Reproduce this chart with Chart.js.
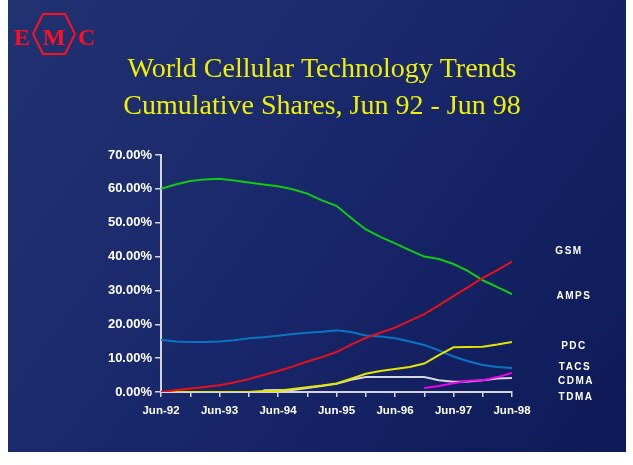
<!DOCTYPE html>
<html>
<head>
<meta charset="utf-8">
<script src="https://cdn.jsdelivr.net/npm/chart.js@4.4.1/dist/chart.umd.min.js"></script>
<style>
  html, body { margin: 0; padding: 0; background: #ffffff; }
  #wrap { width: 633px; height: 465px; }
</style>
</head>
<body>
<div id="wrap"><canvas id="chart" width="633" height="465"></canvas></div>
<script>
// Quarterly observations, Jun 92 .. Jun 98 (25 quarters)
const quarters = ['Jun-92','Sep-92','Dec-92','Mar-93','Jun-93','Sep-93','Dec-93','Mar-94','Jun-94',
  'Sep-94','Dec-94','Mar-95','Jun-95','Sep-95','Dec-95','Mar-96','Jun-96','Sep-96','Dec-96',
  'Mar-97','Jun-97','Sep-97','Dec-97','Mar-98','Jun-98'];
const xTickLabels = ['Jun-92','Jun-93','Jun-94','Jun-95','Jun-96','Jun-97','Jun-98'];
const yTickValues = [0, 10, 20, 30, 40, 50, 60, 70];

const seriesNames = ['GSM', 'AMPS', 'PDC', 'TACS', 'CDMA', 'TDMA'];

// cumulative share of subscribers, percent
const gsm  = [0.0, 0.5, 1.0, 1.5, 2.0, 2.8, 3.8, 5.0, 6.2, 7.5, 9.0, 10.3, 11.8, 14.0, 16.0, 17.5, 19.0, 21.0, 23.0, 25.6, 28.3, 31.0, 33.7, 36.0, 38.5];
const amps = [60.0, 61.3, 62.3, 62.8, 63.0, 62.5, 61.9, 61.3, 60.8, 59.9, 58.6, 56.6, 55.0, 51.4, 48.0, 45.8, 43.9, 41.9, 40.0, 39.3, 37.8, 35.7, 33.0, 31.0, 28.9];
const pdc  = [0.0, 0.0, 0.0, 0.0, 0.0, 0.0, 0.0, 0.3, 0.4, 0.9, 1.4, 1.9, 2.5, 3.9, 5.4, 6.2, 6.8, 7.4, 8.4, 10.9, 13.2, 13.3, 13.4, 14.0, 14.8];
const tacs = [15.4, 14.9, 14.8, 14.8, 14.9, 15.3, 15.9, 16.2, 16.6, 17.1, 17.5, 17.8, 18.2, 17.7, 16.7, 16.4, 15.9, 14.9, 13.9, 12.3, 10.5, 9.1, 8.0, 7.4, 7.1];
const cdma = [null, null, null, null, null, null, null, null, null, null, null, null, null, null, null, null, null, null, 1.2, 1.8, 2.6, 3.3, 3.5, 4.4, 5.6];
const tdma = [null, null, null, null, null, null, null, 0.5, 0.6, 0.6, 1.2, 1.8, 2.4, 3.6, 4.4, 4.4, 4.4, 4.4, 4.4, 3.5, 3.0, 3.1, 3.5, 4.0, 4.1];

const seriesValues = { GSM: gsm, AMPS: amps, PDC: pdc, TACS: tacs, CDMA: cdma, TDMA: tdma };
const seriesColors = { GSM: '#e8101c', AMPS: '#10cc10', PDC: '#e4e400', TACS: '#0a74c4', CDMA: '#f000f0', TDMA: '#d8d8e0' };
// where each series name sits beside the plot: axis units up, pixels across
const nameAnchors = { GSM: 41.5, AMPS: 28.3, PDC: 13.6, TACS: 7.4, CDMA: 3.2, TDMA: -1.5 };
const nameCentres = { GSM: 569, AMPS: 574, PDC: 574, TACS: 575, CDMA: 576, TDMA: 576 };
// drawing order, top-most first
const stacking = ['GSM', 'CDMA', 'PDC', 'AMPS', 'TDMA', 'TACS'];

const toPoints = arr => arr.map((v, i) => ({ x: i, y: v }));

const datasets = stacking.map(name => ({
  label: name,
  data: toPoints(seriesValues[name]),
  borderColor: seriesColors[name],
  backgroundColor: seriesColors[name],
  borderWidth: 2,
  pointRadius: 0,
  tension: 0,
  spanGaps: false,
  fill: false
}));

const slideBackground = {
  id: 'slideBackground',
  beforeDraw(chart) {
    const ctx = chart.ctx;
    ctx.save();
    ctx.fillStyle = '#ffffff';
    ctx.fillRect(0, 0, chart.width, chart.height);
    const g = ctx.createLinearGradient(8, 0, 626, 452);
    g.addColorStop(0, '#213271');
    g.addColorStop(0.5, '#18276a');
    g.addColorStop(1, '#0e1a57');
    ctx.fillStyle = g;
    ctx.fillRect(8, 0, 618, 452);
    ctx.restore();
  }
};

const slideDecor = {
  id: 'slideDecor',
  afterDraw(chart) {
    const ctx = chart.ctx;
    const y = chart.scales.y;
    ctx.save();

    // heading
    ctx.fillStyle = '#f0f000';
    ctx.textAlign = 'center';
    ctx.textBaseline = 'alphabetic';
    ctx.font = '28px "Liberation Serif", "DejaVu Serif", serif';
    ctx.fillText('World Cellular Technology Trends', 322, 77);
    ctx.fillText('Cumulative Shares, Jun 92 - Jun 98', 322, 114);

    // company mark
    ctx.strokeStyle = '#ff1020';
    ctx.fillStyle = '#ff1020';
    ctx.lineWidth = 2;
    ctx.beginPath();
    ctx.moveTo(33, 34);
    ctx.lineTo(43, 14);
    ctx.lineTo(65, 14);
    ctx.lineTo(75, 34);
    ctx.lineTo(65, 54);
    ctx.lineTo(43, 54);
    ctx.closePath();
    ctx.stroke();
    ctx.font = 'bold 24px "Liberation Serif", serif';
    ctx.textAlign = 'left';
    ctx.fillText('E', 14, 45);
    ctx.textAlign = 'center';
    ctx.fillText('M', 54, 45);
    ctx.textAlign = 'left';
    ctx.fillText('C', 78, 45);

    // series names at the right
    ctx.fillStyle = '#ffffff';
    ctx.font = 'bold 10px "Liberation Sans", Arial, sans-serif';
    ctx.textAlign = 'center';
    ctx.textBaseline = 'middle';
    ctx.letterSpacing = '1.5px';
    seriesNames.forEach(name => {
      ctx.fillText(name, nameCentres[name], y.getPixelForValue(nameAnchors[name]));
    });
    ctx.restore();
  }
};

new Chart(document.getElementById('chart'), {
  type: 'line',
  data: { datasets },
  options: {
    responsive: false,
    animation: false,
    devicePixelRatio: 1,
    layout: { padding: { left: 0, right: 121, top: 155, bottom: 33 } },
    plugins: {
      legend: { display: false },
      tooltip: { enabled: false },
      title: { display: false }
    },
    scales: {
      x: {
        type: 'linear',
        min: 0,
        max: quarters.length - 1,
        afterFit: s => { s.height = 40; },
        afterBuildTicks: s => {
          s.ticks = quarters.map((q, i) => ({ value: i })).filter(t => t.value % 2 === 0);
        },
        ticks: {
          autoSkip: false,
          maxRotation: 0,
          padding: 7,
          color: '#ffffff',
          font: { family: '"Liberation Sans", Arial, sans-serif', size: 11.5, weight: 'bold' },
          callback: v => (v % 4 === 0 ? xTickLabels[v / 4] : '')
        },
        grid: { display: true, drawOnChartArea: false, drawTicks: true, tickLength: 5, color: '#d4d4dc', lineWidth: 1.5 },
        border: { display: true, color: '#d4d4dc', width: 2 }
      },
      y: {
        min: 0,
        max: 70,
        afterFit: s => { s.width = 161; },
        afterBuildTicks: s => { s.ticks = yTickValues.map(v => ({ value: v })); },
        ticks: {
          padding: 3,
          color: '#ffffff',
          font: { family: '"Liberation Sans", Arial, sans-serif', size: 13, weight: 'bold' },
          callback: v => v.toFixed(2) + '%'
        },
        grid: { display: true, drawOnChartArea: false, drawTicks: true, tickLength: 6, color: '#d4d4dc', lineWidth: 1.5 },
        border: { display: true, color: '#d4d4dc', width: 2 }
      }
    }
  },
  plugins: [slideBackground, slideDecor]
});
</script>
</body>
</html>
